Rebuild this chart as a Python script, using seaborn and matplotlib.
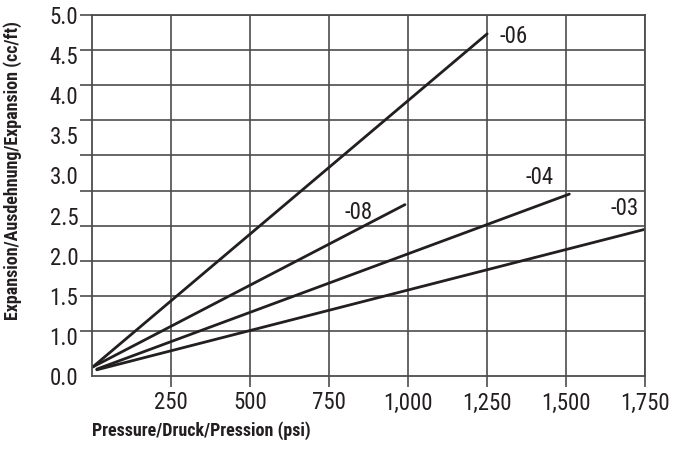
import numpy as np
import pandas as pd
import seaborn as sns
import matplotlib.pyplot as plt

# hose sizes and expansion curves
hose_sizes = ["-06", "-08", "-04", "-03"]
pressure_06 = [2, 1250]
expansion_06 = [-0.01, 4.73]
pressure_08 = [2, 990]
expansion_08 = [-0.01, 2.30]
pressure_04 = [15, 1510]
expansion_04 = [-0.04, 2.45]
pressure_03 = [15, 1750]
expansion_03 = [-0.05, 1.95]

# label anchor points for each curve
label_x = [1290, 800, 1370, 1640]
label_y = [4.69, 2.19, 2.68, 2.24]

x_ticks = [250, 500, 750, 1000, 1250, 1500, 1750]
x_tick_labels = ["250", "500", "750", "1,000", "1,250", "1,500", "1,750"]
grid_levels = [0.5, 1.0, 1.5, 2.0, 2.5, 3.0, 3.5, 4.0, 4.5, 5.0]
y_tick_labels = ["0.0", "1.0", "1.5", "2.0", "2.5", "3.0", "3.5", "4.0", "4.5", "5.0"]

df = pd.DataFrame({
    "pressure": pressure_06 + pressure_08 + pressure_04 + pressure_03,
    "expansion": expansion_06 + expansion_08 + expansion_04 + expansion_03,
    "size": sum([[s] * 2 for s in hose_sizes], []),
})

sns.set_style("white")
plt.rcParams['font.family'] = ['Roboto Condensed', 'DejaVu Sans']
ink = "#231f20"
gridc = "#4d4d4d"

fig, ax = plt.subplots(figsize=(6.77, 4.5), dpi=100)
fig.subplots_adjust(left=0.136, right=0.953, top=0.967, bottom=0.164)

sns.lineplot(data=df, x="pressure", y="expansion", hue="size", units="size",
             estimator=None, palette=[ink] * 4, linewidth=2.0, legend=False, ax=ax)

for lab, lx, ly in zip(hose_sizes, label_x, label_y):
    ax.text(lx, ly, lab, ha="left", va="center", fontsize=16.5, color=ink)

ylo = -0.141
ax.set_xlim(0, 1750)
ax.set_ylim(ylo, 5.0)

ax.set_xticks(x_ticks)
ax.set_xticklabels(x_tick_labels)
ax.xaxis.get_major_ticks()[-1].tick1line.set_visible(False)

# grid levels carry the tick marks, the printed labels sit on their own even spacing
ax.yaxis.remove_overlapping_locs = False
ax.set_yticks(grid_levels)
ax.set_yticklabels([])
ax.set_yticks(np.linspace(ylo, 5.0, len(y_tick_labels)), minor=True)
ax.set_yticklabels(y_tick_labels, minor=True)

ax.tick_params(axis="x", which="major", length=8, width=1.2, color=gridc,
               labelsize=16.5, labelcolor=ink, pad=3, bottom=True)
ax.tick_params(axis="y", which="major", length=8.6, width=1.2, color=gridc,
               labelleft=False, left=True)
ax.tick_params(axis="y", which="minor", length=0, pad=10, labelsize=16.5,
               labelcolor=ink, left=True)

ax.grid(True, which="major", color=gridc, linewidth=1.2)
ax.grid(False, which="minor")
for sp in ax.spines.values():
    sp.set_visible(True)
    sp.set_color(gridc)
    sp.set_linewidth(1.3)

ax.set_xlabel("Pressure/Druck/Pression (psi)", fontsize=13, fontweight="bold", color=ink)
ax.set_ylabel("Expansion/Ausdehnung/Expansion (cc/ft)", fontsize=13, fontweight="bold", color=ink)
ax.xaxis.set_label_coords(0.197, -0.125)
ax.yaxis.set_label_coords(-0.127, 0.57)

plt.savefig("out.png", dpi=100)
